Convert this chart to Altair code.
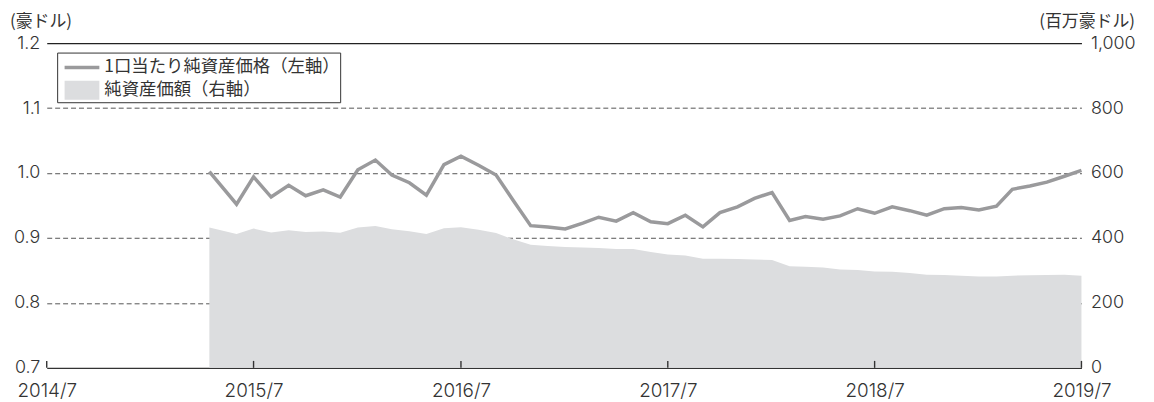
import altair as alt
import pandas as pd

# ---- data ----
dates = [
    "2015-04-14",
    "2015-06-01", "2015-07-01", "2015-08-01", "2015-09-01", "2015-10-01", "2015-11-01", "2015-12-01",
    "2016-01-01", "2016-02-01", "2016-03-01", "2016-04-01", "2016-05-01", "2016-06-01", "2016-07-01",
    "2016-08-01", "2016-09-01", "2016-10-01", "2016-11-01", "2016-12-01",
    "2017-01-01", "2017-02-01", "2017-03-01", "2017-04-01", "2017-05-01", "2017-06-01", "2017-07-01",
    "2017-08-01", "2017-09-01", "2017-10-01", "2017-11-01", "2017-12-01",
    "2018-01-01", "2018-02-01", "2018-03-01", "2018-04-01", "2018-05-01", "2018-06-01", "2018-07-01",
    "2018-08-01", "2018-09-01", "2018-10-01", "2018-11-01", "2018-12-01",
    "2019-01-01", "2019-02-01", "2019-03-01", "2019-04-01", "2019-05-01", "2019-06-01", "2019-07-01",
]
nav = [
    1.002,
    0.952, 0.994, 0.963, 0.981, 0.965, 0.974, 0.963,
    1.005, 1.020, 0.997, 0.985, 0.966, 1.013, 1.026,
    1.012, 0.997, 0.958, 0.919, 0.917,
    0.914, 0.923, 0.932, 0.926, 0.939, 0.925, 0.922,
    0.935, 0.917, 0.939, 0.948, 0.961,
    0.970, 0.927, 0.933, 0.929, 0.934, 0.945, 0.938,
    0.948, 0.942, 0.935, 0.945, 0.947,
    0.943, 0.949, 0.975, 0.980, 0.986, 0.995, 1.004,
]
assets = [
    432,
    412, 429, 417, 424, 418, 420, 416,
    432, 437, 427, 421, 412, 430, 433,
    425, 415, 396, 379, 375,
    372, 371, 369, 366, 366, 357, 349,
    346, 336, 336, 335, 334,
    332, 313, 311, 309, 303, 301, 297,
    296, 292, 287, 286, 284,
    281, 281, 284, 285, 286, 287, 284,
]
year_ticks = ["2014-07-01", "2015-07-01", "2016-07-01", "2017-07-01", "2018-07-01", "2019-07-01"]
nav_ticks = [0.7, 0.8, 0.9, 1.0, 1.1, 1.2]
asset_ticks = [0, 200, 400, 600, 800, 1000]
left_unit = "(豪ドル)"
right_unit = "(百万豪ドル)"
legend_labels = ["1口当たり純資産価格（左軸）", "純資産価額（右軸）"]

# ---- styles ----
LINE_COLOR = "#9a9a9c"
AREA_COLOR = "#dcdddf"
TEXT_COLOR = "#333333"
NUM_FONT = "Inter"
JP_FONT = "Noto Sans CJK JP"
W, H = 1042, 327

df = pd.DataFrame({"date": dates, "nav": nav, "assets": assets})
ticks_df = pd.DataFrame({"date": year_ticks})


def dt(s):
    y, m, d = (int(v) for v in s.split("-"))
    return alt.DateTime(year=y, month=m, date=d, utc=True)


x_enc = alt.X(
    "date:T",
    scale=alt.Scale(type="utc", domain=[dt(year_ticks[0]), dt(year_ticks[-1])]),
    axis=alt.Axis(
        values=[dt(s) for s in year_ticks],
        labelExpr="utcFormat(datum.value, '%Y/%-m')",
        labelFlush=False,
        labelFontSize=19,
        title=None,
        domain=True,
        domainColor="#333333",
        domainWidth=1.4,
        ticks=False,
        tickSize=0,
        labelPadding=14,
        grid=False,
    ),
)

area = alt.Chart(df).mark_area(color=AREA_COLOR, opacity=1).encode(
    x=x_enc,
    y=alt.Y(
        "assets:Q",
        scale=alt.Scale(domain=[0, 1000], nice=False),
        axis=alt.Axis(
            orient="right", values=asset_ticks, format=",d", title=None,
            domain=False, ticks=False, tickSize=0, labelPadding=9, grid=False,
        ),
    ),
)

line = alt.Chart(df).mark_line(color=LINE_COLOR, strokeWidth=3.5).encode(
    x=x_enc,
    y=alt.Y(
        "nav:Q",
        scale=alt.Scale(domain=[0.7, 1.2], nice=False, zero=False),
        axis=alt.Axis(
            orient="left", values=nav_ticks, format=".1f", title=None,
            domain=False, ticks=False, tickSize=0, labelPadding=7,
            grid=True,
            gridDash={"condition": {"test": "datum.value > 1.15", "value": []}, "value": [5, 3]},
            gridColor={"condition": {"test": "datum.value > 1.15", "value": "#222222"}, "value": "#555555"},
            gridWidth={"condition": {"test": "datum.value > 1.15", "value": 1.3}, "value": 1},
            gridOpacity={"condition": {"test": "datum.value < 0.75", "value": 0}, "value": 1},
        ),
    ),
)

xticks = alt.Chart(ticks_df).mark_rule(color="#333333", strokeWidth=1.4).encode(
    x=x_enc, y=alt.value(H), y2=alt.value(H - 7)
)

one = pd.DataFrame({"a": [0]})
legend_box = alt.Chart(one).mark_rect(fill="white", stroke="#333333", strokeWidth=1).encode(
    x=alt.value(11), x2=alt.value(296), y=alt.value(10), y2=alt.value(60)
)
legend_line = alt.Chart(one).mark_rule(color=LINE_COLOR, strokeWidth=3.5).encode(
    x=alt.value(18), x2=alt.value(53), y=alt.value(24.5)
)
legend_rect = alt.Chart(one).mark_rect(fill=AREA_COLOR).encode(
    x=alt.value(18), x2=alt.value(53), y=alt.value(38), y2=alt.value(57)
)
legend_t1 = alt.Chart(one).mark_text(
    align="left", baseline="middle", font=JP_FONT, fontSize=17.5, color=TEXT_COLOR, text=legend_labels[0]
).encode(x=alt.value(58), y=alt.value(24))
legend_t2 = alt.Chart(one).mark_text(
    align="left", baseline="middle", font=JP_FONT, fontSize=17.5, color=TEXT_COLOR, text=legend_labels[1]
).encode(x=alt.value(58), y=alt.value(47))

unit_left = alt.Chart(one).mark_text(
    align="left", baseline="middle", font=JP_FONT, fontSize=17, color=TEXT_COLOR, text=left_unit
).encode(x=alt.value(-37), y=alt.value(-21))
unit_right = alt.Chart(one).mark_text(
    align="right", baseline="middle", font=JP_FONT, fontSize=17, color=TEXT_COLOR, text=right_unit
).encode(x=alt.value(1096), y=alt.value(-21))

chart = (
    alt.layer(area, line, xticks, legend_box, legend_line, legend_rect, legend_t1, legend_t2, unit_left, unit_right)
    .resolve_scale(y="independent")
    .properties(
        width=W,
        height=H,
        autosize=alt.AutoSizeParams(type="none"),
        padding={"left": 39, "top": 34, "right": 65, "bottom": 33},
    )
    .configure_view(stroke=None)
    .configure_axis(
        labelFont=NUM_FONT,
        labelFontSize=18,
        labelFontWeight=300,
        labelColor=TEXT_COLOR,
    )
)

chart.save("out.html", embed_options={"renderer": "svg", "actions": False})
